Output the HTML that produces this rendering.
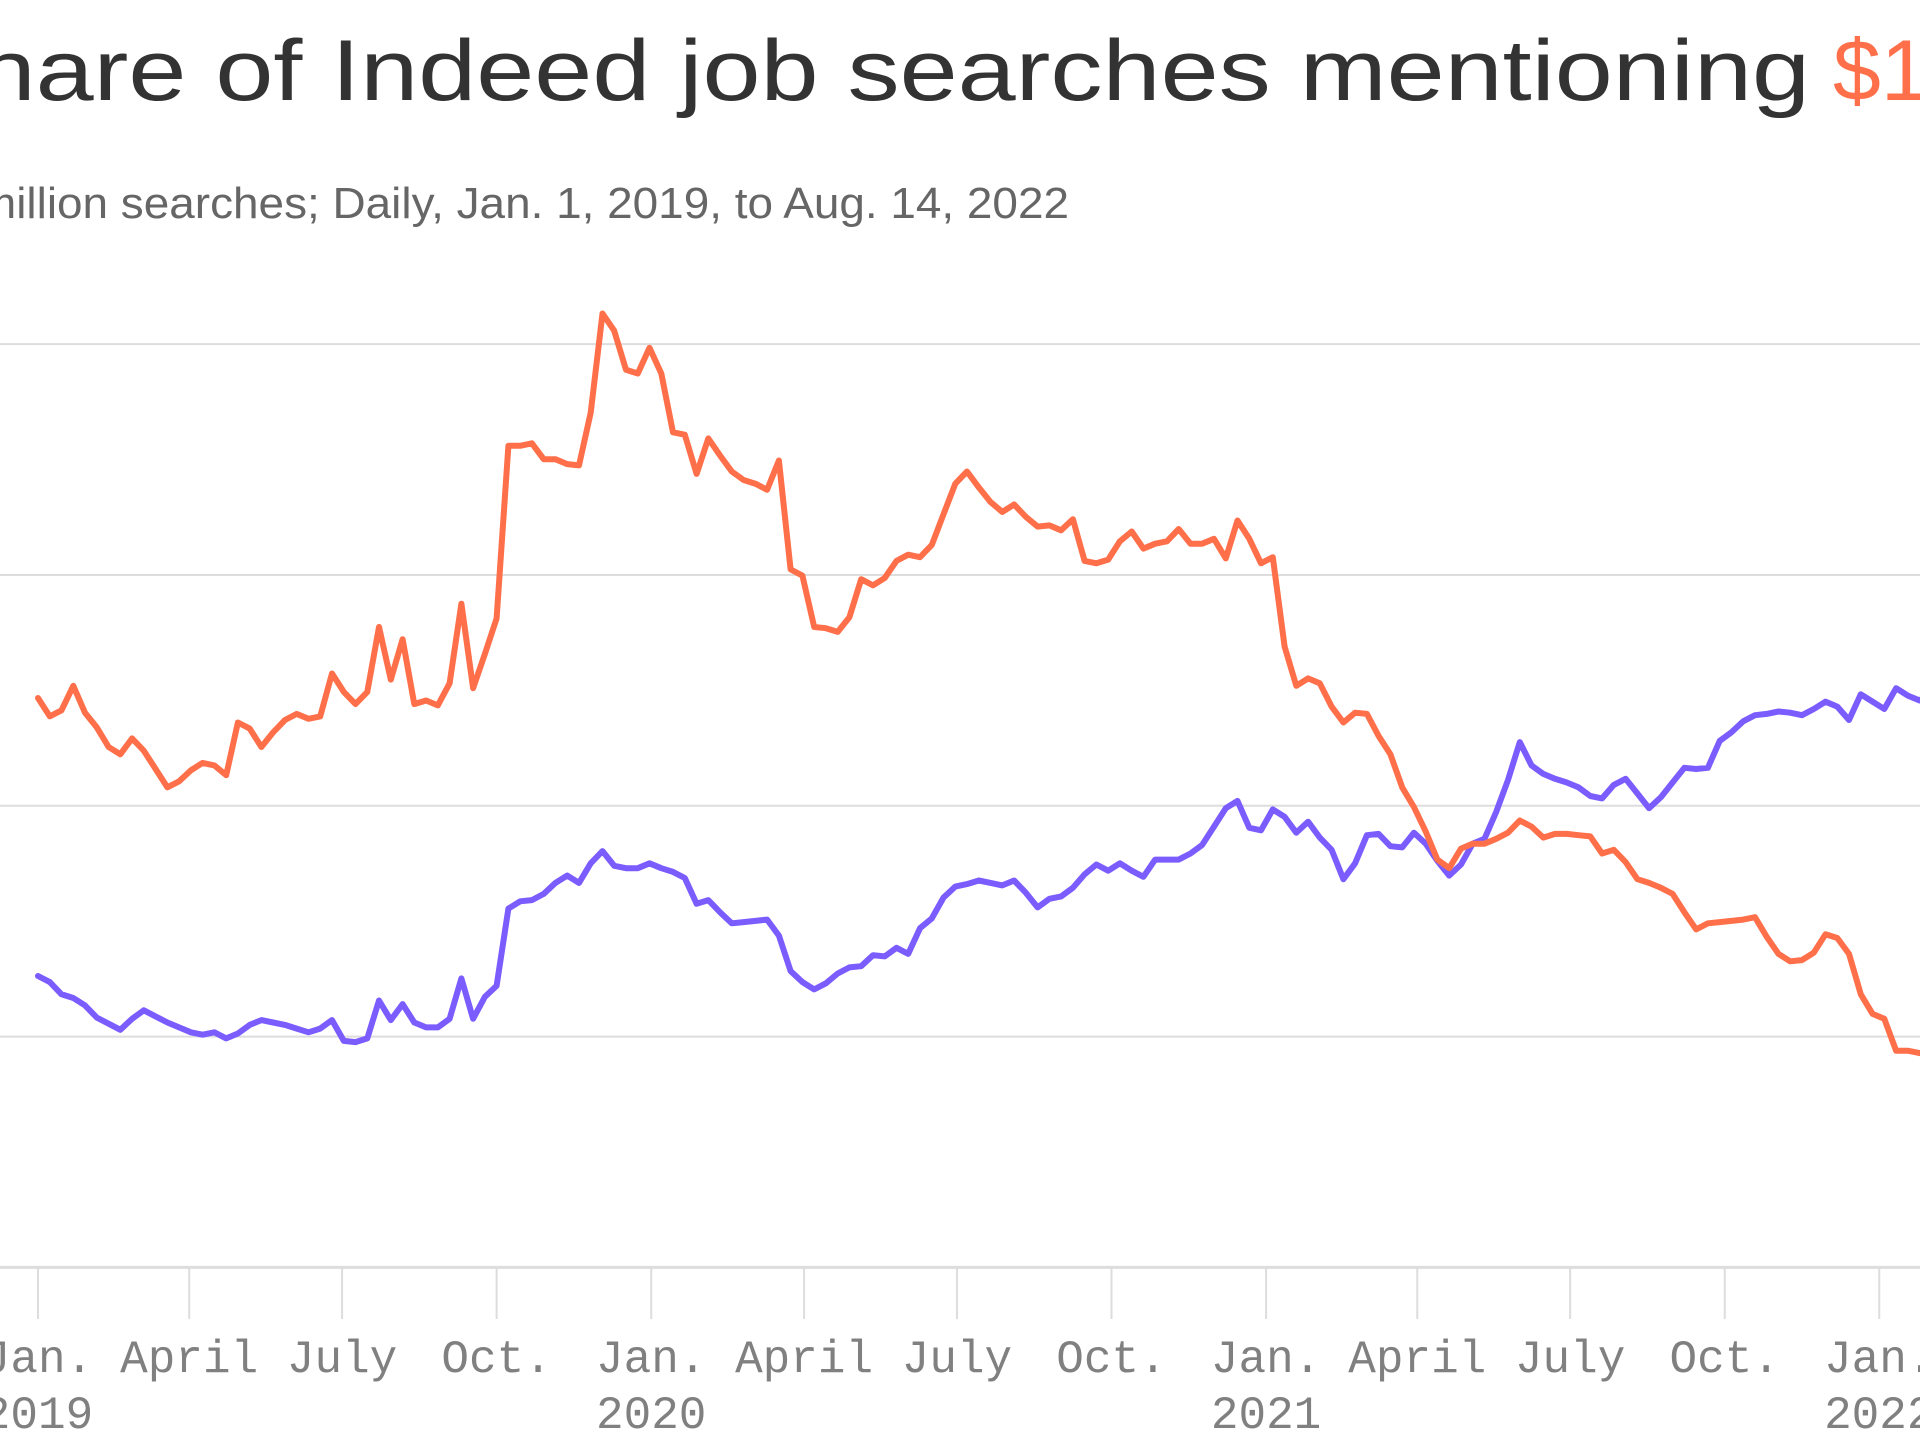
<!DOCTYPE html>
<html><head><meta charset="utf-8"><style>
html,body{margin:0;padding:0;background:#fff;width:1920px;height:1440px;overflow:hidden}
svg{display:block}
</style></head><body>
<svg id="chart" width="1920" height="1440" xmlns="http://www.w3.org/2000/svg">
<text x="-92" y="100" textLength="1902" lengthAdjust="spacingAndGlyphs" font-family="Liberation Sans, sans-serif" font-size="86" fill="#333">Share of Indeed job searches mentioning</text>
<text x="1833" y="100" font-family="Liberation Sans, sans-serif" font-size="86" fill="#ff6f4a">$15</text>
<text x="-22" y="218" textLength="1091" lengthAdjust="spacingAndGlyphs" font-family="Liberation Sans, sans-serif" font-size="44" fill="#666">million searches; Daily, Jan. 1, 2019, to Aug. 14, 2022</text>
<g id="grid"></g><g id="xaxis"></g><g id="series"></g>
</svg>
<script>
const gridValues=[0,188.5,377,565.5,754];
const monthLabels=["Jan.","April","July","Oct.","Jan.","April","July","Oct.","Jan.","April","July","Oct.","Jan."];
const yearLabels=["2019","","","","2020","","","","2021","","","","2022"];
const tickDays=[0,90,181,273,365,456,547,639,731,821,912,1004,1096];
const stepDays=7;
const orangeValues=[465,450,455,475,453,441,425,419,432,422,407,392,397,406,412,410,402,445,440,425,437,447,452,448,450,485,470,460,470,523,480,513,460,463,459,477,542,473,501,530,671,671,673,660,660,656,655,698,779,765,733,730,751,730,682,680,648,677,663,650,643,640,635,659,570,565,523,522,519,531,562,557,563,577,582,580,590,615,640,650,637,625,617,623,613,605,606,602,611,577,575,578,593,601,587,591,593,603,591,591,595,579,610,595,575,580,507,475,481,477,458,445,453,452,434,419,392,376,356,333,326,342,346,346,350,355,365,360,351,354,354,353,352,338,341,331,317,314,310,305,290,276,281,282,283,284,286,270,256,250,251,257,272,269,256,223,207,203,177,177,175,177];
const purpleValues=[238,233,223,220,214,204,199,194,203,210,205,200,196,192,190,192,187,191,198,202,200,198,195,192,195,202,185,184,187,218,202,215,200,196,196,203,236,203,221,230,293,299,300,305,314,320,314,330,340,328,326,326,330,326,323,318,297,300,290,281,282,283,284,271,242,233,227,232,240,245,246,255,254,261,256,277,285,302,311,313,316,314,312,316,306,294,301,303,310,321,329,324,330,324,319,333,333,333,338,345,360,375,381,359,357,374,368,355,364,351,341,317,330,353,354,344,343,355,346,332,320,329,346,350,372,398,429,410,403,399,396,392,385,383,394,399,387,375,384,396,408,407,408,430,437,446,451,452,454,453,451,456,462,458,447,468,462,456,473,467,463,470];
const NS="http://www.w3.org/2000/svg";
const xScale=d=>38+d*1.68;
const yScale=v=>1267.4-v*1.2245;
const grid=document.getElementById('grid'),xa=document.getElementById('xaxis'),ser=document.getElementById('series');
gridValues.forEach((v,i)=>{
  const l=document.createElementNS(NS,'line');
  
  
  l.setAttribute('x1',0);l.setAttribute('x2',1920);
  l.setAttribute('y1',yScale(v));l.setAttribute('y2',yScale(v));
  l.setAttribute('stroke','#ddd');l.setAttribute('stroke-width',i===0?3:2);
  grid.appendChild(l);
});
tickDays.forEach((d,i)=>{
  const x=xScale(d);
  const t=document.createElementNS(NS,'line');
  
  
  t.setAttribute('x1',x);t.setAttribute('x2',x);t.setAttribute('y1',1268);t.setAttribute('y2',1319);
  t.setAttribute('stroke','#ddd');t.setAttribute('stroke-width',2);
  xa.appendChild(t);
  [[monthLabels[i],1372,'x-tick-label'],[yearLabels[i],1428,'x-year-label']].forEach(([s,y,n])=>{
    if(!s)return;
    const tx=document.createElementNS(NS,'text');
    
    
    tx.setAttribute('x',x);tx.setAttribute('y',y);tx.setAttribute('text-anchor','middle');
    tx.setAttribute('font-family','Liberation Mono, monospace');tx.setAttribute('font-size','46');tx.setAttribute('fill','#808080');
    tx.textContent=s;xa.appendChild(tx);
  });
});
[[purpleValues,'#7b5cff','purple-series-line'],[orangeValues,'#ff6f4a','orange-series-line']].forEach(([vals,c,n])=>{
  const p=document.createElementNS(NS,'path');
  
  
  p.setAttribute('d',vals.map((v,k)=>(k?'L':'M')+xScale(k*stepDays).toFixed(1)+','+yScale(v).toFixed(1)).join(''));
  p.setAttribute('fill','none');p.setAttribute('stroke',c);p.setAttribute('stroke-width',6);
  p.setAttribute('stroke-linejoin','round');p.setAttribute('stroke-linecap','round');
  ser.appendChild(p);
});
</script>
</body></html>
